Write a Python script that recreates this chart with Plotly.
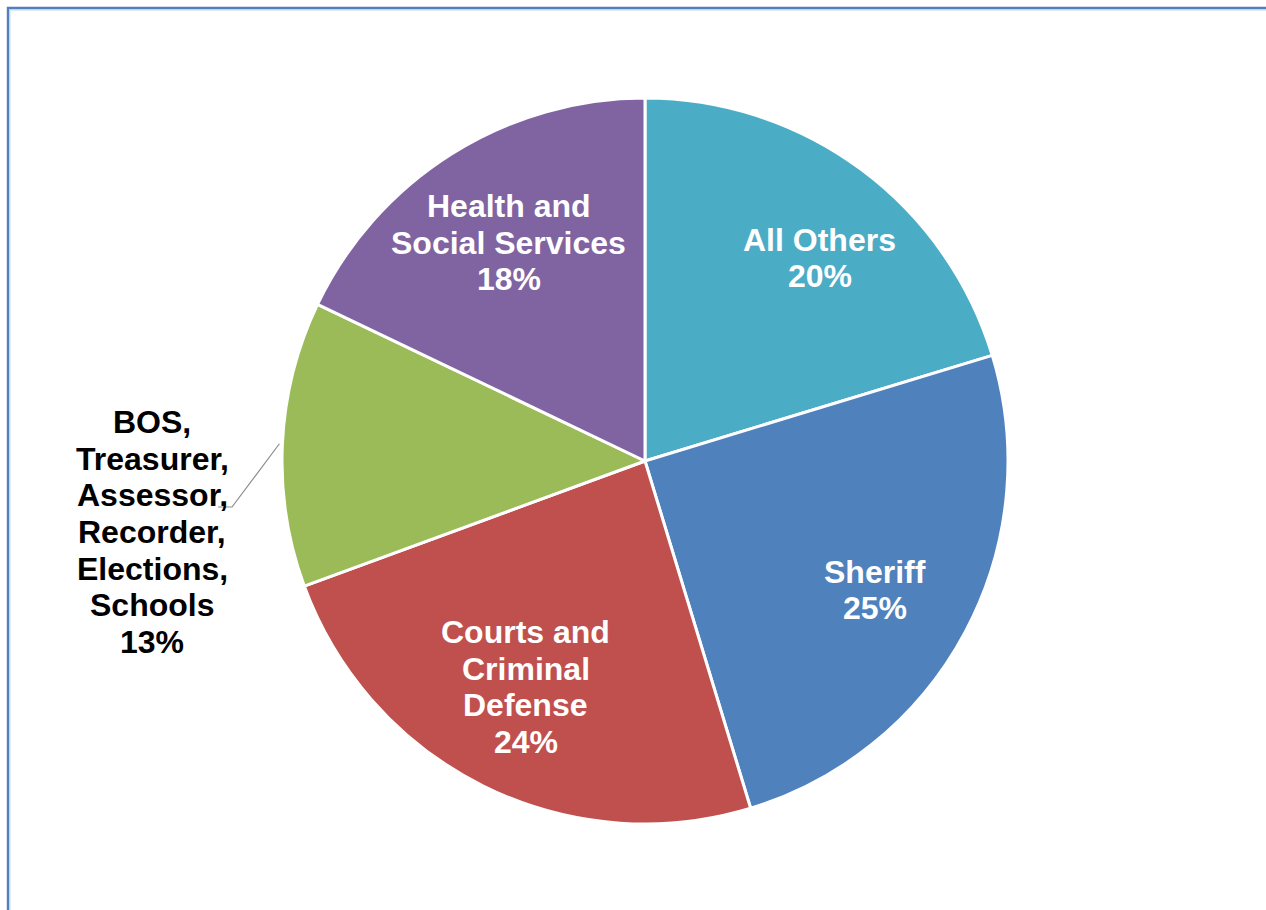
import math
import plotly.graph_objects as go

# ---- data ----
categories = ["All Others", "Sheriff", "Courts and Criminal Defense",
              "BOS, Treasurer, Assessor, Recorder, Elections, Schools",
              "Health and Social Services"]
label_lines = [["All Others"], ["Sheriff"], ["Courts and", "Criminal", "Defense"],
               ["BOS,", "Treasurer,", "Assessor,", "Recorder,", "Elections,", "Schools"],
               ["Health and", "Social Services"]]
shares = [20.3, 25.0, 24.1, 12.7, 17.9]
colors = ["#4BACC6", "#4F81BD", "#C0504D", "#9BBB59", "#8064A2"]
outside = [False, False, False, True, False]
# small pixel nudges for label placement (styling only)
label_nudge = [(19, 7), (-1, 6), (-3, -8), (0, 0), (3, 3)]

W, H = 1266, 910
CX, CY, R = 645, 461, 363
FONT = "Arial, 'Liberation Sans', sans-serif"
FS = 32
LINE_H = 36.6

def px(x):
    return x / W

def py(y):
    return 1 - y / H

fig = go.Figure()
fig.add_trace(go.Pie(
    labels=categories, values=shares, sort=False, direction="clockwise",
    rotation=0, marker=dict(colors=colors, line=dict(color="white", width=3)),
    textinfo="none", hoverinfo="label+percent", showlegend=False,
    domain=dict(x=[px(CX - R), px(CX + R)], y=[py(CY + R), py(CY - R)]),
))

total = sum(shares)
annotations = []
shapes = []
cum = 0.0
for cat, lines, v, out, nudge in zip(categories, label_lines, shares, outside, label_nudge):
    mid = (cum + v / 2) / total * 2 * math.pi
    cum += v
    pct = f"{round(v / total * 100)}%"
    all_lines = lines + [pct]
    if out:
        bx, by = 152, 532
        color = "black"
        sx = CX + (R + 3) * math.sin(mid)
        sy = CY - (R + 3) * math.cos(mid)
        shapes.append(dict(type="path", xref="paper", yref="paper",
                           path=f"M {px(sx)} {py(sy)} L {px(232)} {py(507)} L {px(218)} {py(507)}",
                           line=dict(color="#8C8C8C", width=1.2)))
    else:
        f = 0.72
        bx = CX + f * R * math.sin(mid) + nudge[0]
        by = CY - f * R * math.cos(mid) + nudge[1]
        color = "white"
    n = len(all_lines)
    for i, t in enumerate(all_lines):
        ly = by + (i - (n - 1) / 2) * LINE_H
        annotations.append(dict(x=px(bx), y=py(ly), xref="paper", yref="paper",
                                text=f"<b>{t}</b>", showarrow=False,
                                xanchor="center", yanchor="middle",
                                font=dict(family=FONT, size=FS, color=color)))

# chart frame (outer dark blue line with light inner line)
shapes.append(dict(type="rect", xref="paper", yref="paper",
                   x0=px(8), y0=py(8), x1=px(W + 20), y1=py(H + 20),
                   line=dict(color="#4F7FBC", width=2.4), fillcolor="rgba(0,0,0,0)"))
shapes.append(dict(type="rect", xref="paper", yref="paper",
                   x0=px(9.8), y0=py(9.8), x1=px(W + 20), y1=py(H + 20),
                   line=dict(color="#BFD1EA", width=1.2), fillcolor="rgba(0,0,0,0)"))

fig.update_layout(width=W, height=H, margin=dict(l=0, r=0, t=0, b=0),
                  paper_bgcolor="white", plot_bgcolor="white",
                  annotations=annotations, shapes=shapes)

fig.write_html("out.html", config={"displayModeBar": False},
               post_script="document.body.style.margin='0';")
